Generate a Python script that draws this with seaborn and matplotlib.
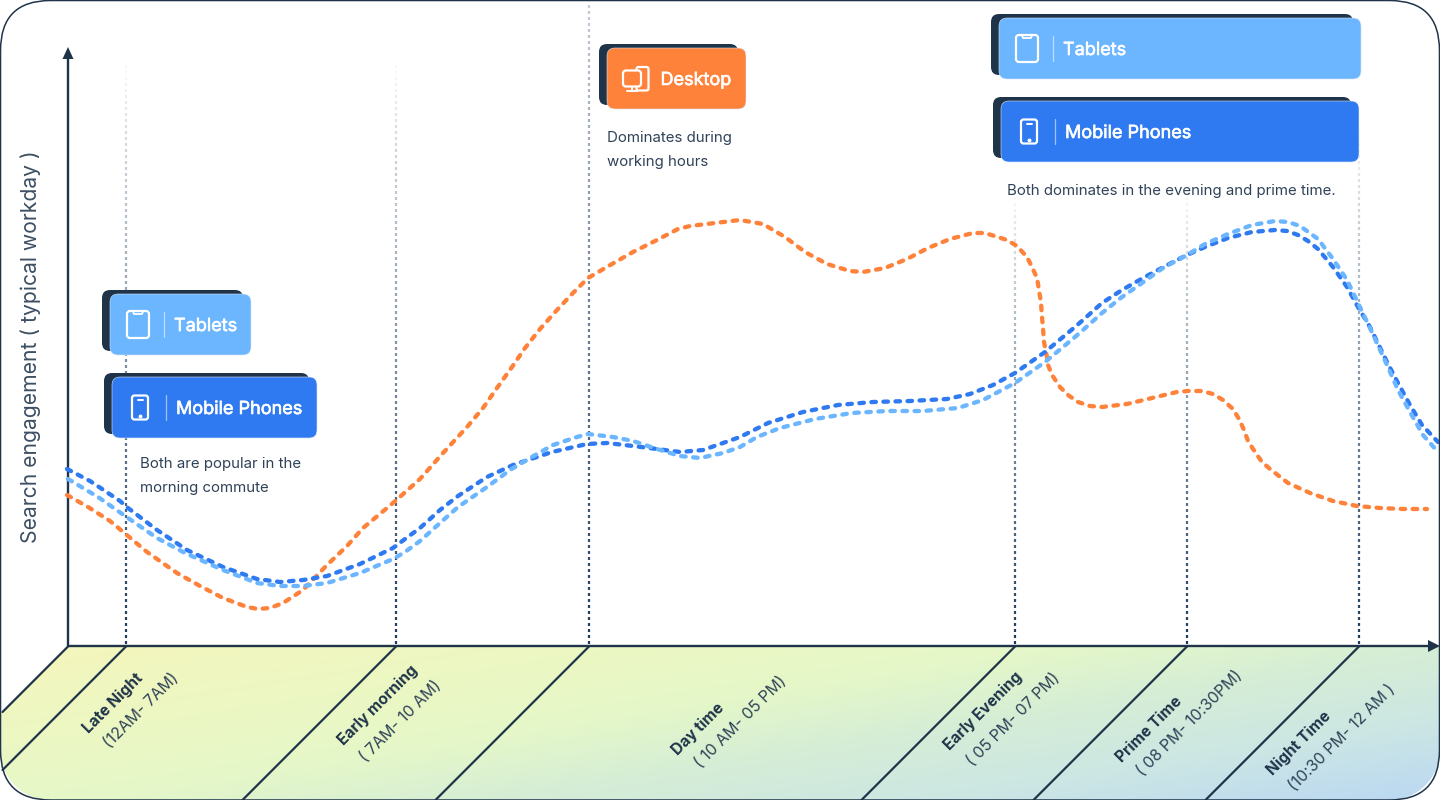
import numpy as np
import pandas as pd
import seaborn as sns
import matplotlib
matplotlib.use("Agg")
import matplotlib.pyplot as plt
import matplotlib.patheffects as pe
from matplotlib.patches import FancyBboxPatch, PathPatch, Polygon
from matplotlib.path import Path
from matplotlib.colors import LinearSegmentedColormap

# ---------- data (height above the time axis) ----------
mobile_x = [67,90,120,128,157,187,223,257,280,303,327,360,393,405,420,440,458,487,513,552,587,607,633,657,680,703,723,740,768,803,838,873,910,947,970,993,1015,1045,1075,1083,1102,1122,1143,1173,1187,1205,1228,1252,1275,1287,1298,1308,1318,1333,1347,1358,1370,1387,1398,1410,1422,1438]
mobile_y = [176,164,144,137,115,95,78,66,63,65,69,81,97,106,117,135,149,168,180,193,201,202,199,196,193,195,202,208,222,233,240,243,244,246,251,260,272,293,318,325,342,355,367,383,390,398,407,413,415,414,410,404,396,378,358,338,318,283,262,240,220,203]
tablet_x = [68,98,128,157,185,223,257,280,303,327,360,393,405,420,440,458,487,510,530,553,577,588,613,633,657,680,700,723,740,757,780,815,852,887,923,958,983,1015,1045,1075,1083,1102,1122,1142,1163,1187,1205,1228,1252,1275,1288,1300,1318,1333,1347,1358,1370,1387,1398,1410,1423,1438]
tablet_y = [166,148,127,107,92,75,62,59,59,62,72,86,93,104,122,138,158,175,187,200,208,211,208,204,196,189,187,192,198,208,217,226,232,234,234,237,245,262,283,308,315,332,348,362,377,390,401,411,420,424,423,419,406,386,365,342,317,280,255,233,210,193]
desktop_x = [67,88,110,128,147,177,200,223,247,258,270,283,303,327,347,363,393,420,443,467,483,497,512,525,540,557,573,588,612,633,655,678,690,715,740,763,785,805,827,850,863,885,907,928,950,973,985,1007,1017,1027,1032,1037,1039,1041,1042,1043,1044,1047,1048,1052,1060,1068,1078,1090,1102,1127,1152,1177,1188,1202,1213,1223,1233,1239,1244,1248,1255,1262,1270,1288,1310,1333,1357,1380,1403,1427]
desktop_y = [150,138,124,109,93,72,59,47,38,36,37,42,55,80,99,117,142,166,192,218,237,257,278,297,316,335,352,367,381,393,404,416,419,422,425,421,408,393,381,374,373,377,386,397,406,412,412,405,399,388,378,367,355,342,328,317,303,288,280,270,258,250,243,239,238,241,247,253,254,254,251,245,236,226,215,204,193,183,176,162,152,144,139,137,136,136]

series_names = ["Desktop", "Mobile Phones", "Tablets"]
period_names = ["Late Night", "Early morning", "Day time", "Early Evening", "Prime Time", "Night Time"]
period_hours = ["(12AM- 7AM)", "( 7AM- 10 AM)", "( 10 AM- 05 PM)", "( 05 PM- 07 PM)", "( 08 PM- 10:30PM)", "(10:30 PM- 12 AM )"]
period_edges = [126, 396, 589, 1015, 1187, 1359]
y_title = "Search engagement ( typical workday )"

# ---------- style ----------
NAVY = "#1f3449"
TEXT = "#2f4257"
COLORS = {"Desktop": "#ff823b", "Mobile Phones": "#2f7af0", "Tablets": "#6bb6ff"}
sns.set_theme(style="white")
plt.rcParams["font.family"] = ["Inter", "DejaVu Sans"]

fig = plt.figure(figsize=(14.4, 8), dpi=100, facecolor="white")
ax = fig.add_axes([0, 0, 1, 1])
ax.set_xlim(0, 1440)
ax.set_ylim(-155, 645)
ax.axis("off")
Y = lambda py: 645 - py   # picture row -> axis height

# ---------- bottom band ----------
R = 50
k = 0.55 * R
verts = [(68, Y(646)), (1440, Y(646)), (1440, Y(800 - R)),
         (1440, Y(800 - R + k)), (1440 - R + k, Y(800)), (1440 - R, Y(800)),
         (R, Y(800)), (R - k, Y(800)), (0, Y(800 - R + k)), (0, Y(800 - R)),
         (0, Y(714)), (68, Y(646))]
codes = [Path.MOVETO, Path.LINETO, Path.LINETO, Path.CURVE4, Path.CURVE4, Path.CURVE4,
         Path.LINETO, Path.CURVE4, Path.CURVE4, Path.CURVE4, Path.LINETO, Path.CLOSEPOLY]
band = Path(verts, codes)
gx, gy = np.meshgrid(np.linspace(0, 1, 200), np.linspace(0, 1, 60))
grad = 0.6 * gx + 0.4 * gy
cmap = LinearSegmentedColormap.from_list(
    "band", [(0, "#f5f6bc"), (0.43, "#e6f8c8"), (0.6, "#d6eed5"), (0.8, "#cce6e4"), (1, "#bad8f3")])
im = ax.imshow(grad, cmap=cmap, vmin=0, vmax=1, extent=(0, 1440, Y(800), Y(645)),
               origin="upper", aspect="auto", zorder=0, interpolation="bilinear")
im.set_clip_path(PathPatch(band, transform=ax.transData))
ax.set_xlim(0, 1440)
ax.set_ylim(-155, 645)

# diagonal separators
for x0 in [68] + period_edges:
    drop = min(x0 - 2 if x0 < 154 else 154, 154)
    ax.plot([x0 + 0.5, x0 + 0.5 - drop], [Y(646), Y(646 + drop)], color=NAVY, lw=1.6, zorder=1)

# ---------- fading vertical guides ----------
guide_tops = [65, 65, -150, 190, 190, 130]
for xv, top in zip(period_edges, guide_tops):
    for s in np.arange(644, max(top, 3), -6.0):
        a = ((s - top) / (645 - top)) ** 0.85
        ax.plot([xv, xv], [Y(s), Y(s - 3.2)], color="#1d3a5c", alpha=float(np.clip(a, 0.03, 1)),
                lw=1.6, solid_capstyle="butt", zorder=2)

# ---------- axes ----------
ax.plot([68, 68], [Y(646), Y(55)], color=NAVY, lw=1.7, zorder=3, solid_capstyle="butt")
ax.plot([68, 1430], [Y(646), Y(646)], color=NAVY, lw=1.7, zorder=3, solid_capstyle="butt")
ax.add_patch(Polygon([(68, Y(47)), (62.5, Y(59)), (73.5, Y(59))], closed=True, color=NAVY, zorder=3, lw=0))
ax.add_patch(Polygon([(1440, Y(646)), (1428, Y(640)), (1428, Y(652))], closed=True, color=NAVY, zorder=3, lw=0))

# ---------- curves ----------
df = pd.concat([
    pd.DataFrame({"x": desktop_x, "y": desktop_y, "s": series_names[0]}),
    pd.DataFrame({"x": mobile_x, "y": mobile_y, "s": series_names[1]}),
    pd.DataFrame({"x": tablet_x, "y": tablet_y, "s": series_names[2]}),
], ignore_index=True)
before = len(ax.lines)
sns.lineplot(data=df, x="x", y="y", hue="s", hue_order=series_names, palette=COLORS,
             estimator=None, sort=False, legend=False, lw=3.1, ax=ax, zorder=4)
for ln in ax.lines[before:]:
    ln.set_linestyle((0, (1.05, 1.75)))
    ln.set_dash_capstyle("round")
    ln.set_dash_joinstyle("round")
ax.set_xlim(0, 1440)
ax.set_ylim(-155, 645)
ax.axis("off")

# ---------- cards ----------
def rbox(x0, y0, x1, y1, r, **kw):
    p = FancyBboxPatch((x0 + r, Y(y1) + r), x1 - x0 - 2 * r, y1 - y0 - 2 * r,
                       boxstyle=f"round,pad={r},rounding_size={r}", mutation_aspect=1, **kw)
    ax.add_patch(p)
    return p

def icon_tablet(cx, cy):
    rbox(cx - 11, cy - 13.5, cx + 11, cy + 13.5, 3, fc="none", ec="white", lw=1.6, zorder=7)
    ax.plot([cx - 5, cx - 4, cx + 4, cx + 5], [Y(cy - 13), Y(cy - 10.5), Y(cy - 10.5), Y(cy - 13)],
            color="white", lw=1.3, zorder=7)

def icon_phone(cx, cy):
    rbox(cx - 8, cy - 12, cx + 8, cy + 12, 2.5, fc="none", ec="white", lw=1.6, zorder=7)
    ax.plot([cx - 2.5, cx + 2.5], [Y(cy - 8), Y(cy - 8)], color="white", lw=1.4, zorder=7)
    ax.plot([cx], [Y(cy + 8)], "o", color="white", ms=1.8, zorder=7)

def icon_desktop(cx, cy):
    rbox(cx + 0.5, cy - 11.5, cx + 12.5, cy + 12, 2, fc="none", ec="white", lw=1.6, zorder=7)
    rbox(cx - 13, cy - 8, cx + 5, cy + 8, 3, fc=COLORS["Desktop"], ec="white", lw=1.6, zorder=7)
    ax.plot([cx - 4, cx - 4], [Y(cy + 8), Y(cy + 12.5)], color="white", lw=1.4, zorder=7)
    ax.plot([cx - 9, cx + 1], [Y(cy + 12.5), Y(cy + 12.5)], color="white", lw=1.4, zorder=7)

def card(name, x0, y0, x1, y1, icon_dx, icon, text_x, sep_x=None):
    rbox(x0 - 8, y0 - 4, x1 - 8, y1 - 4, 8, fc=NAVY, ec="none", zorder=5)
    rbox(x0, y0, x1, y1, 8, fc=COLORS[name], ec="#d8e8fb", lw=0.4, zorder=6)
    cy = (y0 + y1) / 2
    icon(x0 + icon_dx, cy)
    if sep_x is not None:
        ax.plot([sep_x, sep_x], [Y(cy - 12.5), Y(cy + 12.5)], color="white", alpha=0.55, lw=0.9, zorder=7)
    ax.text(text_x, Y(cy), name, color="white", fontsize=13.0, ha="left", va="center_baseline", zorder=8,
            path_effects=[pe.withStroke(linewidth=0.45, foreground="white")])

card("Tablets", 110, 294, 251, 355, 28, icon_tablet, 174, 164)
card("Mobile Phones", 112, 377, 317, 438, 28, icon_phone, 176, 166)
card("Desktop", 607, 48, 746, 109, 29, icon_desktop, 660.5)
card("Tablets", 999, 18, 1361, 79, 28, icon_tablet, 1063, 1053)
card("Mobile Phones", 1001, 101, 1359, 162, 28, icon_phone, 1065, 1055)

# ---------- notes ----------
notes = [(140, 463, "Both are popular in the"), (140, 487, "morning commute"),
         (607, 137, "Dominates during"), (607, 161, "working hours"),
         (1007, 190, "Both dominates in the evening and prime time.")]
for nx, ny, s in notes:
    ax.text(nx, Y(ny) + 0.8, s, color=TEXT, fontsize=10.8, ha="left", va="center_baseline", zorder=8)

# ---------- y title ----------
ax.text(31, Y(347), y_title, rotation=90, color="#3c4f63", fontsize=15.2,
        ha="center", va="center", zorder=8)

# ---------- band labels ----------
name_pos = [(113, 703), (378, 705), (698, 729), (983, 711), (1149, 729), (1299, 743)]
hour_pos = [(141, 711), (401, 721), (741, 722), (1013, 719), (1190, 723), (1342, 738)]
for nm, hr, (nx, ny), (hx, hy) in zip(period_names, period_hours, name_pos, hour_pos):
    ax.text(nx, Y(ny), nm, rotation=45, rotation_mode="anchor", color=NAVY, fontsize=11.2,
            fontweight="bold", ha="center", va="center", zorder=8)
    ax.text(hx, Y(hy), hr, rotation=45, rotation_mode="anchor", color=TEXT, fontsize=11.4,
            ha="center", va="center", zorder=8)

# ---------- outer frame ----------
frame = FancyBboxPatch((R + 0.5, Y(800 - R)), 1439 - 2 * R, 800 - 2 * R - 0.5,
                       boxstyle=f"round,pad={R},rounding_size={R}", fc="none", ec=NAVY,
                       lw=1.1, zorder=9, clip_on=False)
ax.add_patch(frame)

fig.savefig("out.png", dpi=100, facecolor="white")
